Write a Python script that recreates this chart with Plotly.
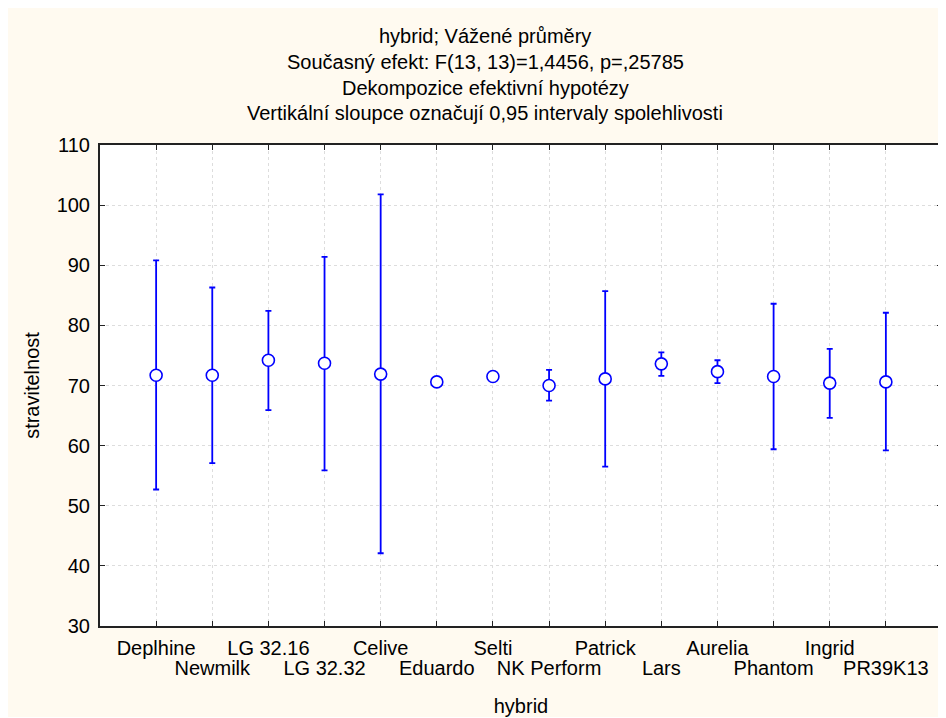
import plotly.graph_objects as go

hybrids = ["Deplhine", "Newmilk", "LG 32.16", "LG 32.32", "Celive", "Eduardo", "Selti",
           "NK Perform", "Patrick", "Lars", "Aurelia", "Phantom", "Ingrid", "PR39K13"]
means = [71.7, 71.7, 74.2, 73.7, 71.9, 70.6, 71.5, 70.0, 71.1, 73.6, 72.3, 71.5, 70.4, 70.6]
upper = [90.8, 86.3, 82.4, 91.4, 101.8, None, None, 72.6, 85.7, 75.5, 74.2, 83.6, 76.1, 82.1]
lower = [52.7, 57.1, 65.9, 55.9, 42.1, None, None, 67.5, 56.5, 71.6, 70.4, 59.4, 64.6, 59.2]
y_ticks = [30, 40, 50, 60, 70, 80, 90, 100, 110]
title_lines = ["hybrid; Vážené průměry",
               "Současný efekt: F(13, 13)=1,4456, p=,25785",
               "Dekompozice efektivní hypotézy",
               "Vertikální sloupce označují 0,95 intervaly spolehlivosti"]

idx = list(range(len(hybrids)))
err_plus = [None if u is None else u - m for u, m in zip(upper, means)]
err_minus = [None if l is None else m - l for l, m in zip(lower, means)]

W, H = 938, 709
L, R, T, B = 92, 2, 137, 91
pw, ph = W - L - R, H - T - B

def px_x(x):
    return (x - L) / pw

def px_y(y):
    return (H - B - y) / ph

FONT = "Liberation Sans, Arial, sans-serif"
BLUE = "#0000FF"

even = [i for i in idx if i % 2 == 0]
odd = [i for i in idx if i % 2 == 1]

fig = go.Figure()
# invisible helper trace so the second (label-only) x axis is drawn
fig.add_trace(go.Scatter(x=idx, y=means, xaxis="x2", yaxis="y", mode="markers",
                         marker=dict(opacity=0), showlegend=False, hoverinfo="skip"))
fig.add_trace(go.Scatter(
    x=idx, y=means, mode="markers",
    marker=dict(symbol="circle", size=12, color="white", line=dict(color=BLUE, width=1.6)),
    error_y=dict(type="data", symmetric=False, array=err_plus, arrayminus=err_minus,
                 color=BLUE, thickness=1.8, width=3),
    showlegend=False, hoverinfo="skip"))

axis_common = dict(showline=True, linecolor="#222222", linewidth=2, mirror="ticks",
                   ticks="inside", ticklen=5, tickwidth=1, tickcolor="#222222",
                   tickfont=dict(family=FONT, size=20, color="black"),
                   showgrid=True, gridcolor="#dddddd", griddash="dot", gridwidth=1,
                   zeroline=False)

fig.update_layout(
    width=W, height=H,
    margin=dict(l=L, r=R, t=T, b=B),
    paper_bgcolor="#FFFAF0", plot_bgcolor="white",
    font=dict(family=FONT, size=20, color="black"),
    xaxis=dict(range=[-1, 14], tickmode="array", tickvals=idx,
               ticktext=[hybrids[i] if i % 2 == 0 else "" for i in idx],
               ticklabelstandoff=3,
               title=dict(text="hybrid", font=dict(family=FONT, size=20), standoff=42),
               **axis_common),
    xaxis2=dict(overlaying="x", matches="x", side="bottom", anchor="y",
                tickmode="array", tickvals=odd, ticktext=[hybrids[i] for i in odd],
                ticks="", showline=False, showgrid=False, zeroline=False,
                ticklabelstandoff=28,
                tickfont=dict(family=FONT, size=20, color="black")),
    yaxis=dict(range=[30, 110], tickmode="array", tickvals=y_ticks,
               ticktext=[str(v) for v in y_ticks],
               ticklabelstandoff=4,
               title=dict(text="stravitelnost", font=dict(family=FONT, size=20), standoff=12),
               **axis_common),
    showlegend=False,
)

title_y = [28, 54, 79.5, 105]
for text, yy in zip(title_lines, title_y):
    fig.add_annotation(text=text, xref="paper", yref="paper", x=px_x(478), y=px_y(yy),
                       xanchor="center", yanchor="middle", showarrow=False,
                       font=dict(family=FONT, size=20, color="black"))

fig.write_html("out.html")
